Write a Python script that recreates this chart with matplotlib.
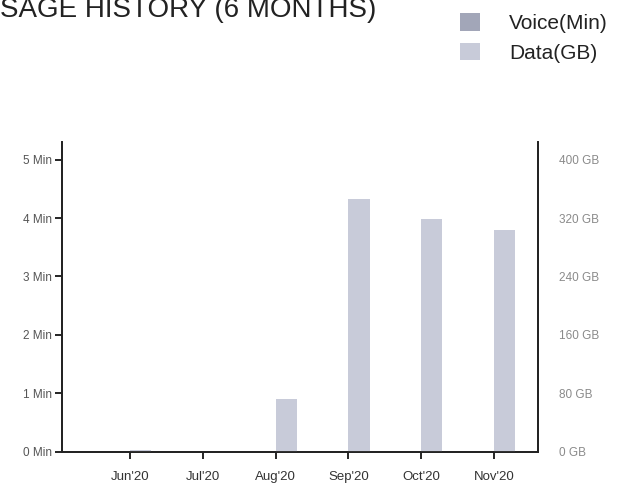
import numpy as np
import matplotlib
matplotlib.use("Agg")
import matplotlib.pyplot as plt
from matplotlib.patches import Patch

# data
months = ["Jun'20", "Jul'20", "Aug'20", "Sep'20", "Oct'20", "Nov'20"]
voice_min = [0, 0, 0, 0, 0, 0]
data_gb = [2, 0, 72, 346, 318, 303]
min_ticks = [0, 1, 2, 3, 4, 5]
gb_ticks = [0, 80, 160, 240, 320, 400]

voice_col = "#a2a6b8"
data_col = "#c8cbd9"

plt.rcParams['font.family'] = ['Liberation Sans', 'DejaVu Sans']

fig = plt.figure(figsize=(6.27, 4.88), dpi=100)
ax = fig.add_axes([0.099, 0.074, 0.759, 0.635])
ax2 = ax.twinx()

x = np.arange(len(months))
w = 0.29
ax.bar(x - w / 2, voice_min, w, color=voice_col)
ax2.bar(x + w / 2, data_gb, w, color=data_col)

ax.set_xlim(-0.93, 5.6)
ax.set_ylim(0, 5.3)
ax2.set_ylim(0, 424)

ax.set_xticks(x)
ax.set_xticklabels(months, fontsize=9.5, color="#333333")
ax.tick_params(axis="x", length=5, width=1.2, pad=9)

ax.set_yticks(min_ticks)
ax.set_yticklabels([f"{t} Min" for t in min_ticks], fontsize=8.5, color="#555555")
ax.tick_params(axis="y", length=5, width=1.2, pad=2)

ax2.set_yticks(gb_ticks)
ax2.set_yticklabels([f"{t} GB" for t in gb_ticks], fontsize=8.5, color="#8a8a8a")
ax2.tick_params(axis="y", length=0, pad=15)

for a in (ax, ax2):
    a.spines["top"].set_visible(False)
    for s in ("left", "right", "bottom"):
        a.spines[s].set_linewidth(1.3)
        a.spines[s].set_color("#222222")

# title is cut off by the top/left edge in the scan
fig.text(-20 / 627, 1 - 17 / 488, "USAGE HISTORY (6 MONTHS)", fontsize=20,
         color="#222222", va="baseline", ha="left")

handles = [Patch(facecolor=voice_col, edgecolor="none"),
           Patch(facecolor=data_col, edgecolor="none")]
fig.legend(handles, ["Voice(Min)", "Data(GB)"], loc="upper left",
           bbox_to_anchor=(460 / 627, 1 - 13 / 488), frameon=False,
           borderpad=0, borderaxespad=0,
           fontsize=15, handlelength=0.95, handleheight=0.95,
           handletextpad=1.4, labelspacing=0.45, labelcolor="#222222")

fig.savefig("out.png", dpi=100)
